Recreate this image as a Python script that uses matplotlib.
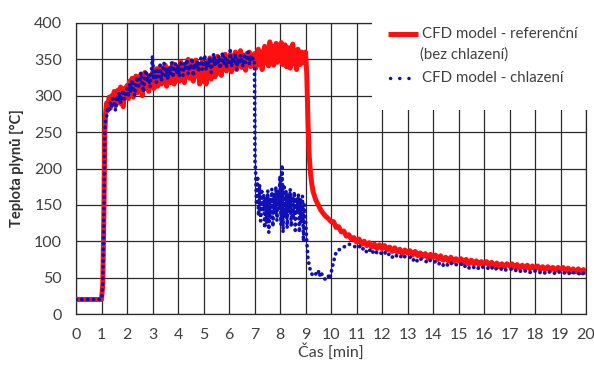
import numpy as np
import matplotlib
matplotlib.use("Agg")
import matplotlib.pyplot as plt
from matplotlib.lines import Line2D
from matplotlib.patches import Rectangle

plt.rcParams['font.family'] = ['Lato', 'DejaVu Sans']

# ---------------- data ----------------
# Reference CFD model (no cooling)
ref_t_start = [0.0, 1.0, 1.05, 1.1, 1.13, 1.16]
ref_v_start = [20, 20, 40, 150, 250, 275]
ref_noisy = [  # t = 1.20 .. 9.00 step 0.05
    290, 280, 298, 283, 300, 289, 306, 286, 296, 308, 290, 312, 295, 285, 310, 299,
    314, 296, 320, 303, 324, 298, 317, 327, 304, 322, 309, 330, 300, 320, 332, 310, 325, 306, 328, 314,
    332, 310, 327, 337, 313, 330, 340, 316, 333, 320, 342, 313, 329, 338, 318, 335, 344, 316, 332, 323,
    340, 320, 347, 326, 338, 318, 344, 329, 350, 324, 340, 346, 320, 337, 349, 327, 342, 316, 339, 347,
    320, 342, 316, 347, 328, 352, 323, 340, 350, 326, 345, 354, 331, 348, 328, 353, 336, 357, 334, 349,
    338, 357, 333, 352, 343, 360, 336, 354, 345, 362, 339, 356, 347, 335, 358, 344, 360, 340, 355, 347,
    358, 338, 354, 364, 343, 360, 336, 357, 368, 345, 362, 341, 374, 348, 367, 342, 360, 372, 346, 364,
    350, 373, 343, 362, 370, 340, 358, 366, 338, 360, 371, 344, 357, 336, 364, 348, 343, 360, 346, 357,
    360]
ref_t_drop = [9.05, 9.1, 9.15, 9.2, 9.25, 9.3, 9.4, 9.5, 9.6, 9.7, 9.8, 9.9, 10.0]
ref_v_drop = [330, 260, 215, 192, 178, 168, 157, 150, 143, 138, 134, 131, 127]
ref_tail = [  # t = 10.1 .. 20.0 step 0.1
    127, 119, 120, 113, 114, 107, 109, 103, 105, 99,
    103, 96, 100, 94, 98, 92, 96, 90, 95, 90,
    94, 88, 92, 86, 91, 85, 89, 83, 88, 84,
    87, 81, 86, 80, 84, 79, 83, 77, 82, 78,
    81, 75, 80, 74, 78, 73, 78, 72, 76, 73,
    76, 70, 75, 69, 74, 69, 73, 68, 72, 69,
    72, 67, 71, 66, 70, 65, 69, 65, 69, 66,
    69, 64, 68, 63, 67, 63, 67, 62, 66, 63,
    66, 61, 65, 61, 65, 60, 64, 60, 64, 61,
    64, 59, 63, 58, 62, 58, 62, 57, 61, 58]

# CFD model with cooling
cool_t_start = [0.0, 1.0, 1.05, 1.1, 1.13, 1.16]
cool_v_start = [20, 20, 40, 150, 250, 268]
cool_noisy = [  # t = 1.20 .. 6.95 step 0.05
    272, 285, 278, 292, 283, 296, 288, 280, 300, 292, 305, 290, 298, 308, 295, 303,
    310, 298, 316, 305, 322, 312, 300, 318, 326, 310, 320, 332, 315, 305, 325, 335, 318, 328, 312, 330,
    355, 322, 334, 318, 338, 326, 342, 320, 335, 345, 328, 338, 322, 340, 330, 346, 325, 337, 344, 330,
    340, 326, 348, 335, 328, 345, 338, 350, 330, 342, 336, 352, 327, 344, 338, 348, 333, 345, 352, 336,
    342, 356, 335, 347, 340, 353, 332, 345, 358, 340, 350, 343, 355, 337, 348, 360, 342, 352, 338, 350,
    345, 362, 340, 352, 347, 358, 336, 350, 344, 356, 348, 340, 358, 345, 352, 360, 343, 355, 348, 352]
cool_t_cut = [7.0, 7.02]
cool_v_cut = [345, 205]
cool_osc = [  # t = 7.04 .. 9.00 step 0.04
    200, 150, 190, 135, 178, 128, 172, 140, 165, 118,
    160, 125, 170, 112, 158, 132, 172, 120, 165, 138,
    175, 128, 168, 145, 190, 122, 205, 112, 178, 135,
    170, 118, 165, 140, 172, 120, 162, 130, 168, 115,
    160, 138, 165, 112, 158, 125, 162, 100, 150, 130]
cool_t_dip = [9.05, 9.1, 9.2, 9.3, 9.4, 9.5, 9.55, 9.6, 9.7, 9.8, 9.9, 9.95,
              10.0, 10.1, 10.2, 10.3, 10.4, 10.5, 10.6, 10.7, 10.8, 10.9, 11.0]
cool_v_dip = [100, 75, 58, 52, 55, 60, 52, 58, 50, 47, 52, 48,
              56, 72, 85, 88, 90, 92, 94, 96, 95, 93, 92]
cool_tail = [  # t = 11.1 .. 20.0 step 0.1
    94, 88, 91, 85, 89, 83, 88, 84, 86, 82,
    85, 80, 83, 78, 82, 79, 81, 76, 79, 77,
    78, 73, 77, 72, 76, 74, 73, 70, 74, 71,
    72, 68, 71, 67, 70, 66, 70, 67, 68, 67,
    69, 64, 67, 63, 66, 64, 66, 62, 65, 64,
    65, 61, 64, 60, 63, 61, 62, 59, 62, 61,
    62, 59, 61, 58, 61, 59, 60, 57, 60, 59,
    60, 57, 59, 56, 59, 57, 58, 55, 58, 57,
    58, 55, 57, 54, 57, 55, 56, 53, 56, 55]

x_ticks = list(range(0, 21))
y_ticks = [0, 50, 100, 150, 200, 250, 300, 350, 400]
label_ref = "CFD model - referenční"
label_ref2 = "(bez chlazení)"
label_cool = "CFD model - chlazení"
xlabel = "Čas [min]"
ylabel = "Teplota plynů [°C]"

# ---------------- assemble series ----------------
def grid_times(start, step, n):
    return [round(start + i * step, 3) for i in range(n)]

ref_t = ref_t_start + grid_times(1.20, 0.05, len(ref_noisy)) + ref_t_drop + grid_times(10.1, 0.1, len(ref_tail))
ref_v = ref_v_start + ref_noisy + ref_v_drop + ref_tail
cool_t = (cool_t_start + grid_times(1.20, 0.05, len(cool_noisy)) + cool_t_cut
          + grid_times(7.04, 0.04, len(cool_osc)) + cool_t_dip + grid_times(11.1, 0.1, len(cool_tail)))
cool_v = cool_v_start + cool_noisy + cool_v_cut + cool_osc + cool_v_dip + cool_tail

RED = '#FF1010'
BLUE = '#1010B4'
TXT = '#404040'
FS = 11.5
LFS = 10.8

W, H = 594, 365
fig = plt.figure(figsize=(W / 100, H / 100), dpi=100)
ax = fig.add_axes([76 / W, 1 - 314 / H, (586 - 76) / W, (314 - 23) / H])

ax.plot(ref_t, ref_v, color=RED, lw=3.6, solid_joinstyle='round', zorder=3)
ax.plot(cool_t, cool_v, color=BLUE, lw=2.7, linestyle=(0, (0.05, 1.5)), dash_capstyle='round', zorder=4)

ax.set_xlim(0, 20)
ax.set_ylim(0, 400)
ax.set_xticks(x_ticks)
ax.set_yticks(y_ticks)
ax.grid(True, color='#2a2a2a', lw=0.9, zorder=1)
ax.set_axisbelow(True)
for s in ax.spines.values():
    s.set_color('#2a2a2a')
    s.set_linewidth(0.9)
ax.tick_params(length=0, labelsize=FS, colors=TXT)
ax.tick_params(axis='y', pad=10)
ax.tick_params(axis='x', pad=10)
ax.set_xlabel(xlabel, fontsize=FS, color=TXT, labelpad=1)
ax.set_ylabel(ylabel, fontsize=10.5, color='#303030', fontweight='bold', labelpad=7)

# legend area (white box over the grid)
fig.add_artist(Rectangle((372 / W, 1 - 110 / H), (W - 372) / W, 110 / H,
                         transform=fig.transFigure, facecolor='white', edgecolor='none', zorder=10))
fig.add_artist(Line2D([388 / W, 418 / W], [1 - 34 / H, 1 - 34 / H], transform=fig.transFigure,
                      color=RED, lw=3.6, solid_capstyle='butt', zorder=11))
fig.add_artist(Line2D([390 / W, 414 / W], [1 - 78 / H, 1 - 78 / H], transform=fig.transFigure,
                      color=BLUE, lw=2.5, linestyle=(0, (0.05, 2.6)), dash_capstyle='round', zorder=11))
fig.text(422 / W, 1 - 34 / H, label_ref, fontsize=LFS, color=TXT, va='center', ha='left', zorder=12)
fig.text(420 / W, 1 - 55 / H, label_ref2, fontsize=LFS, color=TXT, va='center', ha='left', zorder=12)
fig.text(422 / W, 1 - 78 / H, label_cool, fontsize=LFS, color=TXT, va='center', ha='left', zorder=12)

fig.savefig('out.png', dpi=100)
